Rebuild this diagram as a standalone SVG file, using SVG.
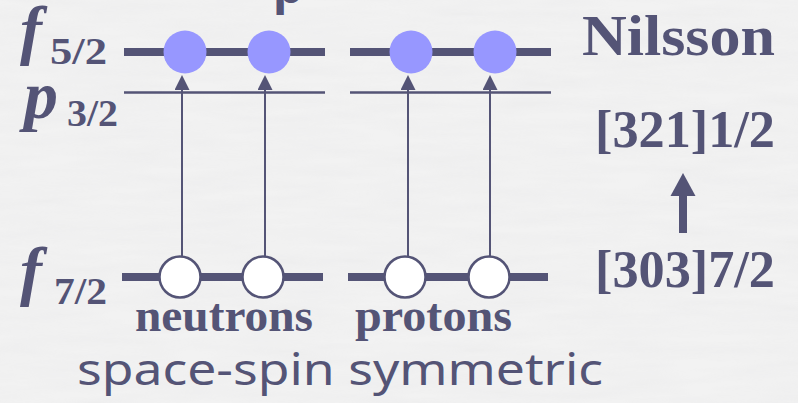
<svg xmlns="http://www.w3.org/2000/svg" width="798" height="403" viewBox="0 0 798 403">
  <style>
    .ink { fill: #545476; }
    .serif { font-family: "Liberation Serif", "Times New Roman", serif; font-weight: bold; fill: #545476; }
    .ital { font-style: italic; }
    .hand { font-family: "Noto Sans", "DejaVu Sans", sans-serif; fill: #545476; }
    .level-thick { stroke: #545476; stroke-width: 8; }
    .level-thin { stroke: #545476; stroke-width: 2.5; }
    .conn { stroke: #545476; stroke-width: 2; fill: none; marker-end: url(#head); }
    .filled { fill: #9797FF; }
    .empty { fill: #FFFFFF; stroke: #545476; stroke-width: 2.5; }
  </style>
  <defs>
    <!-- arrowhead: base sits on the line end, tip points along the line -->
    <marker id="head" markerWidth="15" markerHeight="15" viewBox="0 0 15 15" refX="0" refY="7.5" orient="auto" markerUnits="userSpaceOnUse">
      <path d="M0,0 L15,7.5 L0,15 Z" fill="#545476"/>
    </marker>
    <filter id="grain" x="0" y="0" width="100%" height="100%">
      <feTurbulence type="fractalNoise" baseFrequency="0.012 0.09" numOctaves="3" seed="7"/>
      <feColorMatrix type="matrix" values="0 0 0 0 0.55  0 0 0 0 0.55  0 0 0 0 0.58  0 0 0 0.3 -0.08"/>
    </filter>
  </defs>

  <!-- paper background -->
  <rect width="798" height="403" fill="#F2F2F2"/>
  <rect width="798" height="403" filter="url(#grain)" opacity="0.45"/>

  <!-- clipped heading glyph at the top edge -->
  <text x="273" y="3" class="hand" font-size="48" font-weight="bold">p</text>

  <!-- level labels -->
  <g id="label-f52">
    <text x="20" y="52" class="serif ital" font-size="66">f</text>
    <text x="50" y="64" class="serif" font-size="38" textLength="57" lengthAdjust="spacingAndGlyphs">5/2</text>
  </g>
  <g id="label-p32">
    <text x="24" y="118" class="serif ital" font-size="68">p</text>
    <text x="67" y="126" class="serif" font-size="38" textLength="51" lengthAdjust="spacingAndGlyphs">3/2</text>
  </g>
  <g id="label-f72">
    <text x="20" y="293" class="serif ital" font-size="66">f</text>
    <text x="54" y="304" class="serif" font-size="38" textLength="53" lengthAdjust="spacingAndGlyphs">7/2</text>
  </g>

  <!-- energy levels -->
  <g id="level-f52">
    <line x1="124" y1="52" x2="325" y2="52" class="level-thick"/>
    <line x1="350" y1="52" x2="551" y2="52" class="level-thick"/>
  </g>
  <g id="level-p32">
    <line x1="124" y1="92.5" x2="325" y2="92.5" class="level-thin"/>
    <line x1="350" y1="92.5" x2="551" y2="92.5" class="level-thin"/>
  </g>
  <g id="level-f72">
    <line x1="122" y1="277" x2="323" y2="277" class="level-thick"/>
    <line x1="348" y1="277" x2="548" y2="277" class="level-thick"/>
  </g>

  <!-- excitations -->
  <g id="connectors">
    <line x1="182" y1="256" x2="182" y2="90" class="conn"/>
    <line x1="265" y1="256" x2="265" y2="90" class="conn"/>
    <line x1="408" y1="256" x2="408" y2="90" class="conn"/>
    <line x1="490" y1="256" x2="490" y2="90" class="conn"/>
  </g>

  <!-- occupied orbitals -->
  <g id="particle-n1"><circle cx="185" cy="52" r="21.5" class="filled"/></g>
  <g id="particle-n2"><circle cx="269" cy="52" r="21.5" class="filled"/></g>
  <g id="particle-p1"><circle cx="411" cy="52" r="21.5" class="filled"/></g>
  <g id="particle-p2"><circle cx="495" cy="52" r="21.5" class="filled"/></g>

  <!-- holes -->
  <g id="hole-n1"><circle cx="180" cy="277" r="20.5" class="empty"/></g>
  <g id="hole-n2"><circle cx="263" cy="277" r="20.5" class="empty"/></g>
  <g id="hole-p1"><circle cx="405" cy="277" r="20.5" class="empty"/></g>
  <g id="hole-p2"><circle cx="489" cy="277" r="20.5" class="empty"/></g>

  <!-- group labels -->
  <g id="label-neutrons">
    <text x="135" y="331" class="serif" font-size="46" textLength="178" lengthAdjust="spacingAndGlyphs">neutrons</text>
  </g>
  <g id="label-protons">
    <text x="355" y="331" class="serif" font-size="46" textLength="157" lengthAdjust="spacingAndGlyphs">protons</text>
  </g>
  <g id="label-symmetry">
    <text x="77" y="385" class="hand" font-size="44" textLength="526" lengthAdjust="spacingAndGlyphs">space-spin symmetric</text>
  </g>

  <!-- Nilsson orbitals -->
  <g id="label-nilsson">
    <text x="582" y="55" class="serif" font-size="56" textLength="193" lengthAdjust="spacingAndGlyphs">Nilsson</text>
  </g>
  <g id="nilsson-321">
    <text x="595" y="147" class="serif" font-size="52" textLength="180" lengthAdjust="spacingAndGlyphs">[321]1/2</text>
  </g>
  <g id="nilsson-arrow">
    <rect x="679" y="194" width="8" height="39" class="ink"/>
    <path d="M683,173 L695.5,196 L670.5,196 Z" class="ink"/>
  </g>
  <g id="nilsson-303">
    <text x="595" y="287" class="serif" font-size="52" textLength="180" lengthAdjust="spacingAndGlyphs">[303]7/2</text>
  </g>
</svg>
